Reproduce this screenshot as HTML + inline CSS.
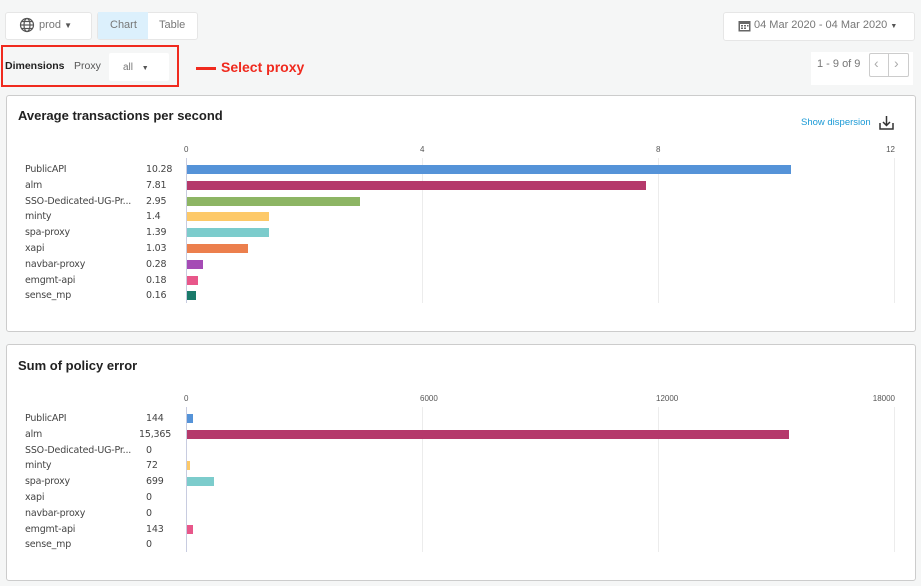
<!DOCTYPE html><html><head><style>
body{margin:0;width:921px;height:586px;background:#f5f6f6;font-family:"Liberation Sans",sans-serif;position:relative;overflow:hidden;color:#333}
.a{position:absolute}
.box{position:absolute;background:#fff;border:1px solid #e6e6e6;border-radius:3px}
.card{position:absolute;left:6px;width:908px;height:235px;background:#fff;border:1px solid #ccc;border-radius:3px}
.t{font-size:13px;font-weight:bold;color:#222}
.lab{position:absolute;font-size:9.5px;color:#444;font-family:"DejaVu Sans","Liberation Sans",sans-serif;letter-spacing:-0.2px}
.tick{position:absolute;font-size:8px;color:#555}
.grid{position:absolute;width:1px;background:#ececec}
.bar{position:absolute;height:9px}
</style></head><body>
<div class="box" style="left:5px;top:12px;width:85px;height:26px"></div>
<svg class="a" style="left:19px;top:17px" width="16" height="16" viewBox="0 0 16 16"><g fill="none" stroke="#555" stroke-width="1.2"><circle cx="8" cy="8" r="6.5"/><ellipse cx="8" cy="8" rx="3" ry="6.5"/><line x1="1.5" y1="8" x2="14.5" y2="8"/><line x1="2.5" y1="4.5" x2="13.5" y2="4.5"/><line x1="2.5" y1="11.5" x2="13.5" y2="11.5"/></g></svg>
<div class="a" style="left:39px;top:19px;font-size:11px;color:#777">prod <span style="font-size:8px;color:#555">▼</span></div>
<div class="box" style="left:97px;top:12px;width:99px;height:26px"></div>
<div class="a" style="left:98px;top:12px;width:50px;height:27px;background:#dcf0fc"></div>
<div class="a" style="left:110px;top:19px;font-size:11px;color:#777">Chart</div>
<div class="a" style="left:159px;top:19px;font-size:11px;color:#777">Table</div>
<div class="box" style="left:723px;top:12px;width:190px;height:27px"></div>
<svg class="a" style="left:738px;top:19px" width="13" height="13"><rect x="0.5" y="2" width="12" height="10.5" fill="#666"/><rect x="2" y="5" width="9" height="6" fill="#fff"/><rect x="3" y="6" width="2" height="1.5" fill="#666"/><rect x="6" y="6" width="2" height="1.5" fill="#666"/><rect x="9" y="6" width="1.5" height="1.5" fill="#666"/><rect x="3" y="8.5" width="2" height="1.5" fill="#666"/><rect x="6" y="8.5" width="2" height="1.5" fill="#666"/></svg>
<div class="a" style="left:754px;top:19px;font-size:11px;color:#777">04 Mar 2020 - 04 Mar 2020 <span style="font-size:7px;color:#555">▼</span></div>
<div class="a" style="left:811px;top:52px;width:102px;height:33px;background:#fff"></div>
<div class="a" style="left:817px;top:58px;font-size:11px;color:#777">1 - 9 of 9</div>
<div class="a" style="left:869px;top:53px;width:38px;height:22px;border:1px solid #ccc;border-radius:2px;background:#fff"></div>
<div class="a" style="left:888px;top:53px;width:1px;height:23px;background:#ccc"></div>
<div class="a" style="left:874px;top:55px;font-size:14px;color:#aaa">‹</div>
<div class="a" style="left:894px;top:55px;font-size:14px;color:#aaa">›</div>
<div class="a" style="left:1px;top:45px;width:178px;height:42px;border:2px solid #f02a1e;box-sizing:border-box"></div>
<div class="a" style="left:5px;top:60px;font-size:10.5px;font-weight:bold;color:#222">Dimensions</div>
<div class="a" style="left:74px;top:60px;font-size:10.5px;color:#555">Proxy</div>
<div class="a" style="left:109px;top:53px;width:60px;height:28px;background:#fff;border-radius:2px"></div>
<div class="a" style="left:123px;top:62px;font-size:10px;color:#777">all <span style="font-size:7px;color:#555;margin-left:6px">▼</span></div>
<div class="a" style="left:196px;top:67px;width:20px;height:3px;background:#f02a1e"></div>
<div class="a" style="left:221px;top:59px;font-size:14px;font-weight:bold;color:#f02a1e">Select proxy</div>

<div class="card" style="top:95px"></div>
<div class="a t" style="left:18px;top:108px">Average transactions per second</div>
<div class="a" style="left:801px;top:117px;font-size:9.5px;color:#1a9ad6">Show dispersion</div>
<svg class="a" style="left:879px;top:115px" width="15" height="15"><g fill="none" stroke="#333" stroke-width="1.5"><path d="M1 8v6h13V8"/><path d="M7.5 1v9M4 7l3.5 3.5L11 7"/></g></svg>
<svg class="a" style="left:879px;top:365px" width="15" height="15"><g fill="none" stroke="#333" stroke-width="1.5"><path d="M1 8v6h13V8"/><path d="M7.5 1v9M4 7l3.5 3.5L11 7"/></g></svg>

<div class="card" style="top:344px"></div>
<div class="a t" style="left:18px;top:358px">Sum of policy error</div>

<div id="c"></div>
<script>
var names=["PublicAPI","alm","SSO-Dedicated-UG-Pr...","minty","spa-proxy","xapi","navbar-proxy","emgmt-api","sense_mp"];
var cols=["#5593d8","#b5396b","#8db564","#fdc968","#7ccccc","#ec7f4d","#a54bb5","#e8578a","#1a7a6a"];
var v1=[10.28,7.81,2.95,1.4,1.39,1.03,0.28,0.18,0.16],l1=["10.28","7.81","2.95","1.4","1.39","1.03","0.28","0.18","0.16"];
var v2=[144,15365,0,72,699,0,0,143,0],l2=["144","15,365","0","72","699","0","0","143","0"];
var h="";
function chart(top,vals,labs,ticks,max){
 var y0=top+70,gt=top+63;
 for(var i=0;i<4;i++){var x=186+i*236;h+='<div class="grid" style="left:'+x+'px;top:'+gt+'px;height:145px;'+(i==0?'background:#c8cce0':'')+'"></div>';
 if(i==3)h+='<div class="tick" style="right:'+(921-895)+'px;top:'+(top+50)+'px">'+ticks[i]+'</div>';
 else h+='<div class="tick" style="left:'+(x-2)+'px;top:'+(top+50)+'px">'+ticks[i]+'</div>';}
 for(var i=0;i<9;i++){var y=y0+i*15.8;
 h+='<div class="lab" style="left:25px;top:'+(y-1)+'px">'+names[i]+'</div>';
 h+='<div class="lab" style="left:'+(labs[i].length>5?139:146)+'px;top:'+(y-1)+'px">'+labs[i]+'</div>';
 if(vals[i]>0){var w=Math.max(3,vals[i]/max*705);h+='<div class="bar" style="left:187px;top:'+y+'px;width:'+w+'px;background:'+cols[i]+'"></div>';}}
}
chart(95,v1,l1,["0","4","8","12"],12);
chart(344,v2,l2,["0","6000","12000","18000"],18000);
document.getElementById("c").innerHTML=h;
</script>
</body></html>
